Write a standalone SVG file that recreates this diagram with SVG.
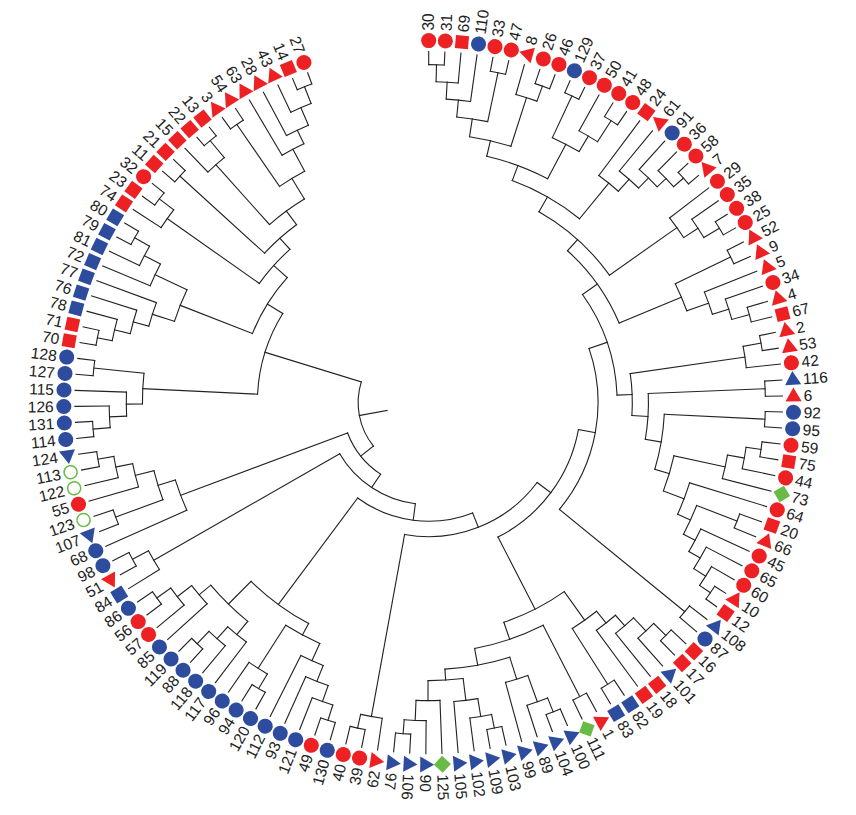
<svg xmlns="http://www.w3.org/2000/svg" width="856" height="815" viewBox="0 0 856 815">
<style>
#connectors circle{fill:none;stroke:#222;stroke-width:1.1;stroke-linecap:square}
#connectors path{fill:none;stroke:#222;stroke-width:1.1;stroke-linecap:square}
text{font-family:"Liberation Sans",Arial,sans-serif;font-size:15.5px;fill:#222}
.e{text-anchor:end}
.r{fill:#ED2024}.b{fill:#2E4C9E}.g{fill:#69BB45}
</style>
<defs>
<circle id="c" r="7.5"/>
<rect id="s" x="-6.5" y="-6.5" width="13" height="13"/>
<polygon id="t" points="-8.3,0 5.5,-8 5.5,8"/>
<polygon id="u" points="0,-8.3 -8,5.5 8,5.5"/>
<polygon id="d" points="0,-8.5 8.5,0 0,8.5 -8.5,0"/>
<circle id="o" r="6.5" fill="#fff" stroke="#69BB45" stroke-width="1.5"/>
</defs>
<rect width="856" height="815" fill="#fff"/>
<g transform="translate(428.7 402.6) scale(1.008 1)">
<g id="connectors">
<circle r="338" pathLength="360" stroke-dasharray="2.62 400" transform="rotate(-90)"/><path d="M0-338V-351"/><path d="M0-338V-351" transform="rotate(2.62)"/>
<circle r="321" pathLength="360" stroke-dasharray="3.92 400" transform="rotate(-88.69)"/><path d="M0-321V-338" transform="rotate(1.31)"/><path d="M0-321V-351" transform="rotate(5.23)"/>
<circle r="304" pathLength="360" stroke-dasharray="4.58 400" transform="rotate(-86.73)"/><path d="M0-304V-321" transform="rotate(3.27)"/><path d="M0-304V-351" transform="rotate(7.85)"/>
<circle r="337" pathLength="360" stroke-dasharray="2.62 400" transform="rotate(-79.54)"/><path d="M0-337V-351" transform="rotate(10.46)"/><path d="M0-337V-351" transform="rotate(13.08)"/>
<circle r="287" pathLength="360" stroke-dasharray="6.21 400" transform="rotate(-84.44)"/><path d="M0-287V-304" transform="rotate(5.56)"/><path d="M0-287V-337" transform="rotate(11.77)"/>
<circle r="336" pathLength="360" stroke-dasharray="2.61 400" transform="rotate(-71.69)"/><path d="M0-336V-351" transform="rotate(18.31)"/><path d="M0-336V-351" transform="rotate(20.92)"/>
<circle r="320" pathLength="360" stroke-dasharray="3.925 400" transform="rotate(-74.31)"/><path d="M0-320V-351" transform="rotate(15.69)"/><path d="M0-320V-336" transform="rotate(19.615)"/>
<circle r="269" pathLength="360" stroke-dasharray="8.985 400" transform="rotate(-81.335)"/><path d="M0-269V-287" transform="rotate(8.665)"/><path d="M0-269V-320" transform="rotate(17.65)"/>
<circle r="338" pathLength="360" stroke-dasharray="2.61 400" transform="rotate(-66.46)"/><path d="M0-338V-351" transform="rotate(23.54)"/><path d="M0-338V-351" transform="rotate(26.15)"/>
<circle r="335" pathLength="360" stroke-dasharray="2.62 400" transform="rotate(-58.62)"/><path d="M0-335V-351" transform="rotate(31.38)"/><path d="M0-335V-351" transform="rotate(34)"/>
<circle r="310" pathLength="360" stroke-dasharray="3.92 400" transform="rotate(-61.23)"/><path d="M0-310V-351" transform="rotate(28.77)"/><path d="M0-310V-335" transform="rotate(32.69)"/>
<circle r="292" pathLength="360" stroke-dasharray="5.88 400" transform="rotate(-65.15)"/><path d="M0-292V-338" transform="rotate(24.85)"/><path d="M0-292V-310" transform="rotate(30.73)"/>
<circle r="253" pathLength="360" stroke-dasharray="14.63 400" transform="rotate(-76.84)"/><path d="M0-253V-269" transform="rotate(13.16)"/><path d="M0-253V-292" transform="rotate(27.79)"/>
<circle r="338" pathLength="360" stroke-dasharray="2.61 400" transform="rotate(-42.92)"/><path d="M0-338V-351" transform="rotate(47.08)"/><path d="M0-338V-351" transform="rotate(49.69)"/>
<circle r="325" pathLength="360" stroke-dasharray="3.925 400" transform="rotate(-45.54)"/><path d="M0-325V-351" transform="rotate(44.46)"/><path d="M0-325V-338" transform="rotate(48.385)"/>
<circle r="313" pathLength="360" stroke-dasharray="4.57 400" transform="rotate(-48.15)"/><path d="M0-313V-351" transform="rotate(41.85)"/><path d="M0-313V-325" transform="rotate(46.42)"/>
<circle r="299" pathLength="360" stroke-dasharray="4.91 400" transform="rotate(-50.77)"/><path d="M0-299V-351" transform="rotate(39.23)"/><path d="M0-299V-313" transform="rotate(44.14)"/>
<circle r="283" pathLength="360" stroke-dasharray="5.06 400" transform="rotate(-53.38)"/><path d="M0-283V-351" transform="rotate(36.62)"/><path d="M0-283V-299" transform="rotate(41.68)"/>
<circle r="237" pathLength="360" stroke-dasharray="18.675 400" transform="rotate(-69.525)"/><path d="M0-237V-253" transform="rotate(20.475)"/><path d="M0-237V-283" transform="rotate(39.15)"/>
<circle r="337" pathLength="360" stroke-dasharray="2.61 400" transform="rotate(-32.46)"/><path d="M0-337V-351" transform="rotate(57.54)"/><path d="M0-337V-351" transform="rotate(60.15)"/>
<circle r="319" pathLength="360" stroke-dasharray="3.925 400" transform="rotate(-35.08)"/><path d="M0-319V-351" transform="rotate(54.92)"/><path d="M0-319V-337" transform="rotate(58.845)"/>
<circle r="302" pathLength="360" stroke-dasharray="4.57 400" transform="rotate(-37.69)"/><path d="M0-302V-351" transform="rotate(52.31)"/><path d="M0-302V-319" transform="rotate(56.88)"/>
<circle r="220" pathLength="360" stroke-dasharray="24.79 400" transform="rotate(-60.19)"/><path d="M0-220V-237" transform="rotate(29.81)"/><path d="M0-220V-302" transform="rotate(54.6)"/>
<circle r="333" pathLength="360" stroke-dasharray="2.61 400" transform="rotate(-27.23)"/><path d="M0-333V-351" transform="rotate(62.77)"/><path d="M0-333V-351" transform="rotate(65.38)"/>
<circle r="330" pathLength="360" stroke-dasharray="2.62 400" transform="rotate(-16.77)"/><path d="M0-330V-351" transform="rotate(73.23)"/><path d="M0-330V-351" transform="rotate(75.85)"/>
<circle r="312" pathLength="360" stroke-dasharray="3.92 400" transform="rotate(-19.38)"/><path d="M0-312V-351" transform="rotate(70.62)"/><path d="M0-312V-330" transform="rotate(74.54)"/>
<circle r="295" pathLength="360" stroke-dasharray="4.58 400" transform="rotate(-22)"/><path d="M0-295V-351" transform="rotate(68)"/><path d="M0-295V-312" transform="rotate(72.58)"/>
<circle r="272" pathLength="360" stroke-dasharray="6.215 400" transform="rotate(-25.925)"/><path d="M0-272V-333" transform="rotate(64.075)"/><path d="M0-272V-295" transform="rotate(70.29)"/>
<circle r="205" pathLength="360" stroke-dasharray="24.98 400" transform="rotate(-47.8)"/><path d="M0-205V-220" transform="rotate(42.2)"/><path d="M0-205V-272" transform="rotate(67.18)"/>
<circle r="335" pathLength="360" stroke-dasharray="2.62 400" transform="rotate(-11.54)"/><path d="M0-335V-351" transform="rotate(78.46)"/><path d="M0-335V-351" transform="rotate(81.08)"/>
<circle r="317" pathLength="360" stroke-dasharray="3.92 400" transform="rotate(-10.23)"/><path d="M0-317V-335" transform="rotate(79.77)"/><path d="M0-317V-351" transform="rotate(83.69)"/>
<circle r="334" pathLength="360" stroke-dasharray="2.61 400" transform="rotate(-3.69)"/><path d="M0-334V-351" transform="rotate(86.31)"/><path d="M0-334V-351" transform="rotate(88.92)"/>
<circle r="334" pathLength="360" stroke-dasharray="2.61 400" transform="rotate(1.54)"/><path d="M0-334V-351" transform="rotate(91.54)"/><path d="M0-334V-351" transform="rotate(94.15)"/>
<circle r="333" pathLength="360" stroke-dasharray="2.61 400" transform="rotate(6.77)"/><path d="M0-333V-351" transform="rotate(96.77)"/><path d="M0-333V-351" transform="rotate(99.38)"/>
<circle r="318" pathLength="360" stroke-dasharray="3.925 400" transform="rotate(8.075)"/><path d="M0-318V-333" transform="rotate(98.075)"/><path d="M0-318V-351" transform="rotate(102)"/>
<circle r="301" pathLength="360" stroke-dasharray="4.58 400" transform="rotate(10.04)"/><path d="M0-301V-318" transform="rotate(100.04)"/><path d="M0-301V-351" transform="rotate(104.62)"/>
<circle r="328" pathLength="360" stroke-dasharray="2.61 400" transform="rotate(19.85)"/><path d="M0-328V-351" transform="rotate(109.85)"/><path d="M0-328V-351" transform="rotate(112.46)"/>
<circle r="338" pathLength="360" stroke-dasharray="2.62 400" transform="rotate(32.92)"/><path d="M0-338V-351" transform="rotate(122.92)"/><path d="M0-338V-351" transform="rotate(125.54)"/>
<circle r="325" pathLength="360" stroke-dasharray="3.92 400" transform="rotate(30.31)"/><path d="M0-325V-351" transform="rotate(120.31)"/><path d="M0-325V-338" transform="rotate(124.23)"/>
<circle r="311" pathLength="360" stroke-dasharray="4.58 400" transform="rotate(27.69)"/><path d="M0-311V-351" transform="rotate(117.69)"/><path d="M0-311V-325" transform="rotate(122.27)"/>
<circle r="298" pathLength="360" stroke-dasharray="4.9 400" transform="rotate(25.08)"/><path d="M0-298V-351" transform="rotate(115.08)"/><path d="M0-298V-311" transform="rotate(119.98)"/>
<circle r="285" pathLength="360" stroke-dasharray="6.375 400" transform="rotate(21.155)"/><path d="M0-285V-328" transform="rotate(111.155)"/><path d="M0-285V-298" transform="rotate(117.53)"/>
<circle r="271" pathLength="360" stroke-dasharray="7.11 400" transform="rotate(17.23)"/><path d="M0-271V-351" transform="rotate(107.23)"/><path d="M0-271V-285" transform="rotate(114.34)"/>
<circle r="249" pathLength="360" stroke-dasharray="8.455 400" transform="rotate(12.33)"/><path d="M0-249V-301" transform="rotate(102.33)"/><path d="M0-249V-271" transform="rotate(110.785)"/>
<circle r="234" pathLength="360" stroke-dasharray="13.715 400" transform="rotate(2.845)"/><path d="M0-234V-334" transform="rotate(92.845)"/><path d="M0-234V-249" transform="rotate(106.56)"/>
<circle r="218" pathLength="360" stroke-dasharray="12.085 400" transform="rotate(-2.385)"/><path d="M0-218V-334" transform="rotate(87.615)"/><path d="M0-218V-234" transform="rotate(99.7)"/>
<circle r="202" pathLength="360" stroke-dasharray="11.93 400" transform="rotate(-8.27)"/><path d="M0-202V-317" transform="rotate(81.73)"/><path d="M0-202V-218" transform="rotate(93.66)"/>
<circle r="187" pathLength="360" stroke-dasharray="33.005 400" transform="rotate(-35.31)"/><path d="M0-187V-205" transform="rotate(54.69)"/><path d="M0-187V-202" transform="rotate(87.695)"/>
<circle r="329" pathLength="360" stroke-dasharray="2.62 400" transform="rotate(38.15)"/><path d="M0-329V-351" transform="rotate(128.15)"/><path d="M0-329V-351" transform="rotate(130.77)"/>
<circle r="168" pathLength="360" stroke-dasharray="58.27 400" transform="rotate(-18.81)"/><path d="M0-168V-187" transform="rotate(71.19)"/><path d="M0-168V-329" transform="rotate(129.46)"/>
<circle r="331" pathLength="360" stroke-dasharray="2.62 400" transform="rotate(43.38)"/><path d="M0-331V-351" transform="rotate(133.38)"/><path d="M0-331V-351" transform="rotate(136)"/>
<circle r="314" pathLength="360" stroke-dasharray="3.93 400" transform="rotate(44.69)"/><path d="M0-314V-351" transform="rotate(138.62)"/><path d="M0-314V-331" transform="rotate(134.69)"/>
<circle r="296" pathLength="360" stroke-dasharray="4.575 400" transform="rotate(46.655)"/><path d="M0-296V-351" transform="rotate(141.23)"/><path d="M0-296V-314" transform="rotate(136.655)"/>
<circle r="282" pathLength="360" stroke-dasharray="4.91 400" transform="rotate(48.94)"/><path d="M0-282V-351" transform="rotate(143.85)"/><path d="M0-282V-296" transform="rotate(138.94)"/>
<circle r="333" pathLength="360" stroke-dasharray="2.62 400" transform="rotate(56.46)"/><path d="M0-333V-351" transform="rotate(146.46)"/><path d="M0-333V-351" transform="rotate(149.08)"/>
<circle r="267" pathLength="360" stroke-dasharray="6.375 400" transform="rotate(51.395)"/><path d="M0-267V-282" transform="rotate(141.395)"/><path d="M0-267V-333" transform="rotate(147.77)"/>
<circle r="330" pathLength="360" stroke-dasharray="2.62 400" transform="rotate(61.69)"/><path d="M0-330V-351" transform="rotate(151.69)"/><path d="M0-330V-351" transform="rotate(154.31)"/>
<circle r="333" pathLength="360" stroke-dasharray="2.62 400" transform="rotate(66.92)"/><path d="M0-333V-351" transform="rotate(156.92)"/><path d="M0-333V-351" transform="rotate(159.54)"/>
<circle r="318" pathLength="360" stroke-dasharray="3.92 400" transform="rotate(68.23)"/><path d="M0-318V-351" transform="rotate(162.15)"/><path d="M0-318V-333" transform="rotate(158.23)"/>
<circle r="290" pathLength="360" stroke-dasharray="4.58 400" transform="rotate(70.19)"/><path d="M0-290V-351" transform="rotate(164.77)"/><path d="M0-290V-318" transform="rotate(160.19)"/>
<circle r="332" pathLength="360" stroke-dasharray="2.62 400" transform="rotate(77.38)"/><path d="M0-332V-351" transform="rotate(167.38)"/><path d="M0-332V-351" transform="rotate(170)"/>
<circle r="318" pathLength="360" stroke-dasharray="3.93 400" transform="rotate(78.69)"/><path d="M0-318V-332" transform="rotate(168.69)"/><path d="M0-318V-351" transform="rotate(172.62)"/>
<circle r="300" pathLength="360" stroke-dasharray="4.575 400" transform="rotate(80.655)"/><path d="M0-300V-318" transform="rotate(170.655)"/><path d="M0-300V-351" transform="rotate(175.23)"/>
<circle r="332" pathLength="360" stroke-dasharray="2.61 400" transform="rotate(93.08)"/><path d="M0-332V-351" transform="rotate(183.08)"/><path d="M0-332V-351" transform="rotate(185.69)"/>
<circle r="318" pathLength="360" stroke-dasharray="3.925 400" transform="rotate(90.46)"/><path d="M0-318V-351" transform="rotate(180.46)"/><path d="M0-318V-332" transform="rotate(184.385)"/>
<circle r="298" pathLength="360" stroke-dasharray="4.57 400" transform="rotate(87.85)"/><path d="M0-298V-351" transform="rotate(177.85)"/><path d="M0-298V-318" transform="rotate(182.42)"/>
<circle r="278" pathLength="360" stroke-dasharray="7.195 400" transform="rotate(82.94)"/><path d="M0-278V-300" transform="rotate(172.94)"/><path d="M0-278V-298" transform="rotate(180.135)"/>
<circle r="267" pathLength="360" stroke-dasharray="14.06 400" transform="rotate(72.48)"/><path d="M0-267V-290" transform="rotate(162.48)"/><path d="M0-267V-278" transform="rotate(176.54)"/>
<circle r="250" pathLength="360" stroke-dasharray="16.51 400" transform="rotate(63)"/><path d="M0-250V-330" transform="rotate(153)"/><path d="M0-250V-267" transform="rotate(169.51)"/>
<circle r="232" pathLength="360" stroke-dasharray="16.675 400" transform="rotate(54.58)"/><path d="M0-232V-267" transform="rotate(144.58)"/><path d="M0-232V-250" transform="rotate(161.255)"/>
<circle r="151" pathLength="360" stroke-dasharray="52.595 400" transform="rotate(10.325)"/><path d="M0-151V-168" transform="rotate(100.325)"/><path d="M0-151V-232" transform="rotate(152.92)"/>
<circle r="333" pathLength="360" stroke-dasharray="2.62 400" transform="rotate(100.92)"/><path d="M0-333V-351" transform="rotate(190.92)"/><path d="M0-333V-351" transform="rotate(193.54)"/>
<circle r="319" pathLength="360" stroke-dasharray="3.92 400" transform="rotate(98.31)"/><path d="M0-319V-351" transform="rotate(188.31)"/><path d="M0-319V-333" transform="rotate(192.23)"/>
<circle r="134" pathLength="360" stroke-dasharray="63.65 400" transform="rotate(36.62)"/><path d="M0-134V-151" transform="rotate(126.62)"/><path d="M0-134V-319" transform="rotate(190.27)"/>
<circle r="333" pathLength="360" stroke-dasharray="2.62 400" transform="rotate(106.15)"/><path d="M0-333V-351" transform="rotate(196.15)"/><path d="M0-333V-351" transform="rotate(198.77)"/>
<circle r="317" pathLength="360" stroke-dasharray="3.92 400" transform="rotate(107.46)"/><path d="M0-317V-333" transform="rotate(197.46)"/><path d="M0-317V-351" transform="rotate(201.38)"/>
<circle r="300" pathLength="360" stroke-dasharray="4.58 400" transform="rotate(109.42)"/><path d="M0-300V-317" transform="rotate(199.42)"/><path d="M0-300V-351" transform="rotate(204)"/>
<circle r="283" pathLength="360" stroke-dasharray="4.91 400" transform="rotate(111.71)"/><path d="M0-283V-300" transform="rotate(201.71)"/><path d="M0-283V-351" transform="rotate(206.62)"/>
<circle r="332" pathLength="360" stroke-dasharray="2.62 400" transform="rotate(119.23)"/><path d="M0-332V-351" transform="rotate(209.23)"/><path d="M0-332V-351" transform="rotate(211.85)"/>
<circle r="315" pathLength="360" stroke-dasharray="3.92 400" transform="rotate(120.54)"/><path d="M0-315V-332" transform="rotate(210.54)"/><path d="M0-315V-351" transform="rotate(214.46)"/>
<circle r="264" pathLength="360" stroke-dasharray="8.335 400" transform="rotate(114.165)"/><path d="M0-264V-283" transform="rotate(204.165)"/><path d="M0-264V-315" transform="rotate(212.5)"/>
<circle r="333" pathLength="360" stroke-dasharray="2.61 400" transform="rotate(132.31)"/><path d="M0-333V-351" transform="rotate(222.31)"/><path d="M0-333V-351" transform="rotate(224.92)"/>
<circle r="316" pathLength="360" stroke-dasharray="3.925 400" transform="rotate(129.69)"/><path d="M0-316V-351" transform="rotate(219.69)"/><path d="M0-316V-333" transform="rotate(223.615)"/>
<circle r="300" pathLength="360" stroke-dasharray="4.57 400" transform="rotate(127.08)"/><path d="M0-300V-351" transform="rotate(217.08)"/><path d="M0-300V-316" transform="rotate(221.65)"/>
<circle r="333" pathLength="360" stroke-dasharray="2.61 400" transform="rotate(142.77)"/><path d="M0-333V-351" transform="rotate(232.77)"/><path d="M0-333V-351" transform="rotate(235.38)"/>
<circle r="316" pathLength="360" stroke-dasharray="3.925 400" transform="rotate(140.15)"/><path d="M0-316V-351" transform="rotate(230.15)"/><path d="M0-316V-333" transform="rotate(234.075)"/>
<circle r="298" pathLength="360" stroke-dasharray="4.57 400" transform="rotate(137.54)"/><path d="M0-298V-351" transform="rotate(227.54)"/><path d="M0-298V-316" transform="rotate(232.11)"/>
<circle r="283" pathLength="360" stroke-dasharray="10.46 400" transform="rotate(129.37)"/><path d="M0-283V-300" transform="rotate(219.37)"/><path d="M0-283V-298" transform="rotate(229.83)"/>
<circle r="251" pathLength="360" stroke-dasharray="16.27 400" transform="rotate(118.33)"/><path d="M0-251V-264" transform="rotate(208.33)"/><path d="M0-251V-283" transform="rotate(224.6)"/>
<circle r="118.6" pathLength="360" stroke-dasharray="58.015 400" transform="rotate(68.445)"/><path d="M0-118.6V-134" transform="rotate(158.445)"/><path d="M0-118.6V-251" transform="rotate(216.46)"/>
<circle r="333" pathLength="360" stroke-dasharray="2.61 400" transform="rotate(150.62)"/><path d="M0-333V-351" transform="rotate(240.62)"/><path d="M0-333V-351" transform="rotate(243.23)"/>
<circle r="315" pathLength="360" stroke-dasharray="3.925 400" transform="rotate(148)"/><path d="M0-315V-351" transform="rotate(238)"/><path d="M0-315V-333" transform="rotate(241.925)"/>
<circle r="102" pathLength="360" stroke-dasharray="52.51 400" transform="rotate(97.45)"/><path d="M0-102V-118.6" transform="rotate(187.45)"/><path d="M0-102V-315" transform="rotate(239.96)"/>
<circle r="333" pathLength="360" stroke-dasharray="2.62 400" transform="rotate(168.92)"/><path d="M0-333V-351" transform="rotate(258.92)"/><path d="M0-333V-351" transform="rotate(261.54)"/>
<circle r="317" pathLength="360" stroke-dasharray="3.92 400" transform="rotate(166.31)"/><path d="M0-317V-351" transform="rotate(256.31)"/><path d="M0-317V-333" transform="rotate(260.23)"/>
<circle r="300" pathLength="360" stroke-dasharray="4.58 400" transform="rotate(163.69)"/><path d="M0-300V-351" transform="rotate(253.69)"/><path d="M0-300V-317" transform="rotate(258.27)"/>
<circle r="331" pathLength="360" stroke-dasharray="2.62 400" transform="rotate(158.46)"/><path d="M0-331V-351" transform="rotate(248.46)"/><path d="M0-331V-351" transform="rotate(251.08)"/>
<circle r="281" pathLength="360" stroke-dasharray="6.21 400" transform="rotate(159.77)"/><path d="M0-281V-331" transform="rotate(249.77)"/><path d="M0-281V-300" transform="rotate(255.98)"/>
<circle r="263" pathLength="360" stroke-dasharray="7.025 400" transform="rotate(155.85)"/><path d="M0-263V-351" transform="rotate(245.85)"/><path d="M0-263V-281" transform="rotate(252.875)"/>
<circle r="86" pathLength="360" stroke-dasharray="35.66 400" transform="rotate(123.7)"/><path d="M0-86V-102" transform="rotate(213.7)"/><path d="M0-86V-263" transform="rotate(249.36)"/>
<circle r="334" pathLength="360" stroke-dasharray="2.62 400" transform="rotate(174.15)"/><path d="M0-334V-351" transform="rotate(264.15)"/><path d="M0-334V-351" transform="rotate(266.77)"/>
<circle r="317" pathLength="360" stroke-dasharray="3.92 400" transform="rotate(175.46)"/><path d="M0-317V-351" transform="rotate(269.38)"/><path d="M0-317V-334" transform="rotate(265.46)"/>
<circle r="300" pathLength="360" stroke-dasharray="4.58 400" transform="rotate(177.42)"/><path d="M0-300V-351" transform="rotate(272)"/><path d="M0-300V-317" transform="rotate(267.42)"/>
<circle r="334" pathLength="360" stroke-dasharray="2.61 400" transform="rotate(184.62)"/><path d="M0-334V-351" transform="rotate(274.62)"/><path d="M0-334V-351" transform="rotate(277.23)"/>
<circle r="284" pathLength="360" stroke-dasharray="6.215 400" transform="rotate(179.71)"/><path d="M0-284V-300" transform="rotate(269.71)"/><path d="M0-284V-334" transform="rotate(275.925)"/>
<circle r="335" pathLength="360" stroke-dasharray="2.61 400" transform="rotate(189.85)"/><path d="M0-335V-351" transform="rotate(279.85)"/><path d="M0-335V-351" transform="rotate(282.46)"/>
<circle r="320" pathLength="360" stroke-dasharray="3.925 400" transform="rotate(191.155)"/><path d="M0-320V-335" transform="rotate(281.155)"/><path d="M0-320V-351" transform="rotate(285.08)"/>
<circle r="304" pathLength="360" stroke-dasharray="4.57 400" transform="rotate(193.12)"/><path d="M0-304V-320" transform="rotate(283.12)"/><path d="M0-304V-351" transform="rotate(287.69)"/>
<circle r="288" pathLength="360" stroke-dasharray="4.91 400" transform="rotate(195.4)"/><path d="M0-288V-304" transform="rotate(285.4)"/><path d="M0-288V-351" transform="rotate(290.31)"/>
<circle r="335" pathLength="360" stroke-dasharray="2.62 400" transform="rotate(208.15)"/><path d="M0-335V-351" transform="rotate(298.15)"/><path d="M0-335V-351" transform="rotate(300.77)"/>
<circle r="318" pathLength="360" stroke-dasharray="3.92 400" transform="rotate(205.54)"/><path d="M0-318V-351" transform="rotate(295.54)"/><path d="M0-318V-335" transform="rotate(299.46)"/>
<circle r="300" pathLength="360" stroke-dasharray="4.58 400" transform="rotate(202.92)"/><path d="M0-300V-351" transform="rotate(292.92)"/><path d="M0-300V-318" transform="rotate(297.5)"/>
<circle r="265" pathLength="360" stroke-dasharray="7.35 400" transform="rotate(197.86)"/><path d="M0-265V-288" transform="rotate(287.86)"/><path d="M0-265V-300" transform="rotate(295.21)"/>
<circle r="336" pathLength="360" stroke-dasharray="2.62 400" transform="rotate(216)"/><path d="M0-336V-351" transform="rotate(306)"/><path d="M0-336V-351" transform="rotate(308.62)"/>
<circle r="318" pathLength="360" stroke-dasharray="3.93 400" transform="rotate(213.38)"/><path d="M0-318V-351" transform="rotate(303.38)"/><path d="M0-318V-336" transform="rotate(307.31)"/>
<circle r="335" pathLength="360" stroke-dasharray="2.62 400" transform="rotate(221.23)"/><path d="M0-335V-351" transform="rotate(311.23)"/><path d="M0-335V-351" transform="rotate(313.85)"/>
<circle r="340" pathLength="360" stroke-dasharray="2.61 400" transform="rotate(229.08)"/><path d="M0-340V-351" transform="rotate(319.08)"/><path d="M0-340V-351" transform="rotate(321.69)"/>
<circle r="318" pathLength="360" stroke-dasharray="3.925 400" transform="rotate(226.46)"/><path d="M0-318V-351" transform="rotate(316.46)"/><path d="M0-318V-340" transform="rotate(320.385)"/>
<circle r="337" pathLength="360" stroke-dasharray="2.61 400" transform="rotate(234.31)"/><path d="M0-337V-351" transform="rotate(324.31)"/><path d="M0-337V-351" transform="rotate(326.92)"/>
<circle r="339" pathLength="360" stroke-dasharray="2.62 400" transform="rotate(247.38)"/><path d="M0-339V-351" transform="rotate(337.38)"/><path d="M0-339V-351" transform="rotate(340)"/>
<circle r="321" pathLength="360" stroke-dasharray="3.92 400" transform="rotate(244.77)"/><path d="M0-321V-351" transform="rotate(334.77)"/><path d="M0-321V-339" transform="rotate(338.69)"/>
<circle r="302" pathLength="360" stroke-dasharray="4.58 400" transform="rotate(242.15)"/><path d="M0-302V-351" transform="rotate(332.15)"/><path d="M0-302V-321" transform="rotate(336.73)"/>
<circle r="287" pathLength="360" stroke-dasharray="4.9 400" transform="rotate(239.54)"/><path d="M0-287V-351" transform="rotate(329.54)"/><path d="M0-287V-302" transform="rotate(334.44)"/>
<circle r="262" pathLength="360" stroke-dasharray="6.375 400" transform="rotate(235.615)"/><path d="M0-262V-337" transform="rotate(325.615)"/><path d="M0-262V-287" transform="rotate(331.99)"/>
<circle r="238" pathLength="360" stroke-dasharray="10.38 400" transform="rotate(228.42)"/><path d="M0-238V-318" transform="rotate(318.42)"/><path d="M0-238V-262" transform="rotate(328.8)"/>
<circle r="221" pathLength="360" stroke-dasharray="11.07 400" transform="rotate(222.54)"/><path d="M0-221V-335" transform="rotate(312.54)"/><path d="M0-221V-238" transform="rotate(323.61)"/>
<circle r="206" pathLength="360" stroke-dasharray="12.73 400" transform="rotate(215.345)"/><path d="M0-206V-318" transform="rotate(305.345)"/><path d="M0-206V-221" transform="rotate(318.075)"/>
<circle r="188" pathLength="360" stroke-dasharray="20.175 400" transform="rotate(201.535)"/><path d="M0-188V-265" transform="rotate(291.535)"/><path d="M0-188V-206" transform="rotate(311.71)"/>
<circle r="170" pathLength="360" stroke-dasharray="28.8 400" transform="rotate(182.82)"/><path d="M0-170V-284" transform="rotate(272.82)"/><path d="M0-170V-188" transform="rotate(301.62)"/>
<circle r="70" pathLength="360" stroke-dasharray="55.69 400" transform="rotate(141.53)"/><path d="M0-70V-86" transform="rotate(231.53)"/><path d="M0-70V-170" transform="rotate(287.22)"/>
<path d="M0-42V-70" transform="rotate(259.375)"/>
</g>
<g id="leaves">
<g id="n30" transform="rotate(0)"><use href="#c" class="r" y="-362"/><text transform="rotate(-90)" x="372" y="5.5">30</text></g>
<g id="n31" transform="rotate(2.62)"><use href="#c" class="r" y="-362"/><text transform="rotate(-90)" x="372" y="5.5">31</text></g>
<g id="n69" transform="rotate(5.23)"><use href="#s" class="r" y="-362"/><text transform="rotate(-90)" x="372" y="5.5">69</text></g>
<g id="n110" transform="rotate(7.85)"><use href="#c" class="b" y="-362"/><text transform="rotate(-90)" x="372" y="5.5">110</text></g>
<g id="n33" transform="rotate(10.46)"><use href="#c" class="r" y="-362"/><text transform="rotate(-90)" x="372" y="5.5">33</text></g>
<g id="n47" transform="rotate(13.08)"><use href="#c" class="r" y="-362"/><text transform="rotate(-90)" x="372" y="5.5">47</text></g>
<g id="n8" transform="rotate(15.69)"><use href="#t" class="r" y="-362"/><text transform="rotate(-90)" x="372" y="5.5">8</text></g>
<g id="n26" transform="rotate(18.31)"><use href="#c" class="r" y="-362"/><text transform="rotate(-90)" x="372" y="5.5">26</text></g>
<g id="n46" transform="rotate(20.92)"><use href="#c" class="r" y="-362"/><text transform="rotate(-90)" x="372" y="5.5">46</text></g>
<g id="n129" transform="rotate(23.54)"><use href="#c" class="b" y="-362"/><text transform="rotate(-90)" x="372" y="5.5">129</text></g>
<g id="n37" transform="rotate(26.15)"><use href="#c" class="r" y="-362"/><text transform="rotate(-90)" x="372" y="5.5">37</text></g>
<g id="n50" transform="rotate(28.77)"><use href="#c" class="r" y="-362"/><text transform="rotate(-90)" x="372" y="5.5">50</text></g>
<g id="n41" transform="rotate(31.38)"><use href="#c" class="r" y="-362"/><text transform="rotate(-90)" x="372" y="5.5">41</text></g>
<g id="n48" transform="rotate(34)"><use href="#c" class="r" y="-362"/><text transform="rotate(-90)" x="372" y="5.5">48</text></g>
<g id="n24" transform="rotate(36.62)"><use href="#s" class="r" y="-362"/><text transform="rotate(-90)" x="372" y="5.5">24</text></g>
<g id="n61" transform="rotate(39.23)"><use href="#t" class="r" y="-362"/><text transform="rotate(-90)" x="372" y="5.5">61</text></g>
<g id="n91" transform="rotate(41.85)"><use href="#c" class="b" y="-362"/><text transform="rotate(-90)" x="372" y="5.5">91</text></g>
<g id="n36" transform="rotate(44.46)"><use href="#c" class="r" y="-362"/><text transform="rotate(-90)" x="372" y="5.5">36</text></g>
<g id="n58" transform="rotate(47.08)"><use href="#c" class="r" y="-362"/><text transform="rotate(-90)" x="372" y="5.5">58</text></g>
<g id="n7" transform="rotate(49.69)"><use href="#t" class="r" y="-362"/><text transform="rotate(-90)" x="372" y="5.5">7</text></g>
<g id="n29" transform="rotate(52.31)"><use href="#c" class="r" y="-362"/><text transform="rotate(-90)" x="372" y="5.5">29</text></g>
<g id="n35" transform="rotate(54.92)"><use href="#c" class="r" y="-362"/><text transform="rotate(-90)" x="372" y="5.5">35</text></g>
<g id="n38" transform="rotate(57.54)"><use href="#c" class="r" y="-362"/><text transform="rotate(-90)" x="372" y="5.5">38</text></g>
<g id="n25" transform="rotate(60.15)"><use href="#c" class="r" y="-362"/><text transform="rotate(-90)" x="372" y="5.5">25</text></g>
<g id="n52" transform="rotate(62.77)"><use href="#t" class="r" y="-362"/><text transform="rotate(-90)" x="372" y="5.5">52</text></g>
<g id="n9" transform="rotate(65.38)"><use href="#t" class="r" y="-362"/><text transform="rotate(-90)" x="372" y="5.5">9</text></g>
<g id="n5" transform="rotate(68)"><use href="#t" class="r" y="-362"/><text transform="rotate(-90)" x="372" y="5.5">5</text></g>
<g id="n34" transform="rotate(70.62)"><use href="#c" class="r" y="-362"/><text transform="rotate(-90)" x="372" y="5.5">34</text></g>
<g id="n4" transform="rotate(73.23)"><use href="#t" class="r" y="-362"/><text transform="rotate(-90)" x="372" y="5.5">4</text></g>
<g id="n67" transform="rotate(75.85)"><use href="#s" class="r" y="-362"/><text transform="rotate(-90)" x="372" y="5.5">67</text></g>
<g id="n2" transform="rotate(78.46)"><use href="#t" class="r" y="-362"/><text transform="rotate(-90)" x="372" y="5.5">2</text></g>
<g id="n53" transform="rotate(81.08)"><use href="#t" class="r" y="-362"/><text transform="rotate(-90)" x="372" y="5.5">53</text></g>
<g id="n42" transform="rotate(83.69)"><use href="#c" class="r" y="-362"/><text transform="rotate(-90)" x="372" y="5.5">42</text></g>
<g id="n116" transform="rotate(86.31)"><use href="#t" class="b" y="-362"/><text transform="rotate(-90)" x="372" y="5.5">116</text></g>
<g id="n6" transform="rotate(88.92)"><use href="#t" class="r" y="-362"/><text transform="rotate(-90)" x="372" y="5.5">6</text></g>
<g id="n92" transform="rotate(91.54)"><use href="#c" class="b" y="-362"/><text transform="rotate(-90)" x="372" y="5.5">92</text></g>
<g id="n95" transform="rotate(94.15)"><use href="#c" class="b" y="-362"/><text transform="rotate(-90)" x="372" y="5.5">95</text></g>
<g id="n59" transform="rotate(96.77)"><use href="#c" class="r" y="-362"/><text transform="rotate(-90)" x="372" y="5.5">59</text></g>
<g id="n75" transform="rotate(99.38)"><use href="#s" class="r" y="-362"/><text transform="rotate(-90)" x="372" y="5.5">75</text></g>
<g id="n44" transform="rotate(102)"><use href="#c" class="r" y="-362"/><text transform="rotate(-90)" x="372" y="5.5">44</text></g>
<g id="n73" transform="rotate(104.62)"><use href="#d" class="g" y="-362"/><text transform="rotate(-90)" x="372" y="5.5">73</text></g>
<g id="n64" transform="rotate(107.23)"><use href="#c" class="r" y="-362"/><text transform="rotate(-90)" x="372" y="5.5">64</text></g>
<g id="n20" transform="rotate(109.85)"><use href="#s" class="r" y="-362"/><text transform="rotate(-90)" x="372" y="5.5">20</text></g>
<g id="n66" transform="rotate(112.46)"><use href="#t" class="r" y="-362"/><text transform="rotate(-90)" x="372" y="5.5">66</text></g>
<g id="n45" transform="rotate(115.08)"><use href="#c" class="r" y="-362"/><text transform="rotate(-90)" x="372" y="5.5">45</text></g>
<g id="n65" transform="rotate(117.69)"><use href="#c" class="r" y="-362"/><text transform="rotate(-90)" x="372" y="5.5">65</text></g>
<g id="n60" transform="rotate(120.31)"><use href="#c" class="r" y="-362"/><text transform="rotate(-90)" x="372" y="5.5">60</text></g>
<g id="n10" transform="rotate(122.92)"><use href="#t" class="r" y="-362"/><text transform="rotate(-90)" x="372" y="5.5">10</text></g>
<g id="n12" transform="rotate(125.54)"><use href="#s" class="r" y="-362"/><text transform="rotate(-90)" x="372" y="5.5">12</text></g>
<g id="n108" transform="rotate(128.15)"><use href="#t" class="b" y="-362"/><text transform="rotate(-90)" x="372" y="5.5">108</text></g>
<g id="n87" transform="rotate(130.77)"><use href="#c" class="b" y="-362"/><text transform="rotate(-90)" x="372" y="5.5">87</text></g>
<g id="n16" transform="rotate(133.38)"><use href="#s" class="r" y="-362"/><text transform="rotate(-90)" x="372" y="5.5">16</text></g>
<g id="n17" transform="rotate(136)"><use href="#s" class="r" y="-362"/><text transform="rotate(-90)" x="372" y="5.5">17</text></g>
<g id="n101" transform="rotate(138.62)"><use href="#t" class="b" y="-362"/><text transform="rotate(-90)" x="372" y="5.5">101</text></g>
<g id="n18" transform="rotate(141.23)"><use href="#s" class="r" y="-362"/><text transform="rotate(-90)" x="372" y="5.5">18</text></g>
<g id="n19" transform="rotate(143.85)"><use href="#s" class="r" y="-362"/><text transform="rotate(-90)" x="372" y="5.5">19</text></g>
<g id="n82" transform="rotate(146.46)"><use href="#s" class="b" y="-362"/><text transform="rotate(-90)" x="372" y="5.5">82</text></g>
<g id="n83" transform="rotate(149.08)"><use href="#s" class="b" y="-362"/><text transform="rotate(-90)" x="372" y="5.5">83</text></g>
<g id="n1" transform="rotate(151.69)"><use href="#t" class="r" y="-362"/><text transform="rotate(-90)" x="372" y="5.5">1</text></g>
<g id="n111" transform="rotate(154.31)"><use href="#d" class="g" y="-362"/><text transform="rotate(-90)" x="372" y="5.5">111</text></g>
<g id="n100" transform="rotate(156.92)"><use href="#t" class="b" y="-362"/><text transform="rotate(-90)" x="372" y="5.5">100</text></g>
<g id="n104" transform="rotate(159.54)"><use href="#t" class="b" y="-362"/><text transform="rotate(-90)" x="372" y="5.5">104</text></g>
<g id="n89" transform="rotate(162.15)"><use href="#t" class="b" y="-362"/><text transform="rotate(-90)" x="372" y="5.5">89</text></g>
<g id="n99" transform="rotate(164.77)"><use href="#t" class="b" y="-362"/><text transform="rotate(-90)" x="372" y="5.5">99</text></g>
<g id="n103" transform="rotate(167.38)"><use href="#t" class="b" y="-362"/><text transform="rotate(-90)" x="372" y="5.5">103</text></g>
<g id="n109" transform="rotate(170)"><use href="#t" class="b" y="-362"/><text transform="rotate(-90)" x="372" y="5.5">109</text></g>
<g id="n102" transform="rotate(172.62)"><use href="#t" class="b" y="-362"/><text transform="rotate(-90)" x="372" y="5.5">102</text></g>
<g id="n105" transform="rotate(175.23)"><use href="#t" class="b" y="-362"/><text transform="rotate(-90)" x="372" y="5.5">105</text></g>
<g id="n125" transform="rotate(177.85)"><use href="#d" class="g" y="-362"/><text transform="rotate(-90)" x="372" y="5.5">125</text></g>
<g id="n90" transform="rotate(180.46)"><use href="#t" class="b" y="-362"/><text transform="rotate(-90)" x="372" y="5.5">90</text></g>
<g id="n106" transform="rotate(183.08)"><use href="#t" class="b" y="-362"/><text transform="rotate(-90)" x="372" y="5.5">106</text></g>
<g id="n97" transform="rotate(185.69)"><use href="#t" class="b" y="-362"/><text transform="rotate(-90)" x="372" y="5.5">97</text></g>
<g id="n62" transform="rotate(188.31)"><use href="#t" class="r" y="-362"/><text class="e" transform="rotate(90)" x="-372" y="5.5">62</text></g>
<g id="n39" transform="rotate(190.92)"><use href="#c" class="r" y="-362"/><text class="e" transform="rotate(90)" x="-372" y="5.5">39</text></g>
<g id="n40" transform="rotate(193.54)"><use href="#c" class="r" y="-362"/><text class="e" transform="rotate(90)" x="-372" y="5.5">40</text></g>
<g id="n130" transform="rotate(196.15)"><use href="#c" class="b" y="-362"/><text class="e" transform="rotate(90)" x="-372" y="5.5">130</text></g>
<g id="n49" transform="rotate(198.77)"><use href="#c" class="r" y="-362"/><text class="e" transform="rotate(90)" x="-372" y="5.5">49</text></g>
<g id="n121" transform="rotate(201.38)"><use href="#c" class="b" y="-362"/><text class="e" transform="rotate(90)" x="-372" y="5.5">121</text></g>
<g id="n93" transform="rotate(204)"><use href="#c" class="b" y="-362"/><text class="e" transform="rotate(90)" x="-372" y="5.5">93</text></g>
<g id="n112" transform="rotate(206.62)"><use href="#c" class="b" y="-362"/><text class="e" transform="rotate(90)" x="-372" y="5.5">112</text></g>
<g id="n120" transform="rotate(209.23)"><use href="#c" class="b" y="-362"/><text class="e" transform="rotate(90)" x="-372" y="5.5">120</text></g>
<g id="n94" transform="rotate(211.85)"><use href="#c" class="b" y="-362"/><text class="e" transform="rotate(90)" x="-372" y="5.5">94</text></g>
<g id="n96" transform="rotate(214.46)"><use href="#c" class="b" y="-362"/><text class="e" transform="rotate(90)" x="-372" y="5.5">96</text></g>
<g id="n117" transform="rotate(217.08)"><use href="#c" class="b" y="-362"/><text class="e" transform="rotate(90)" x="-372" y="5.5">117</text></g>
<g id="n118" transform="rotate(219.69)"><use href="#c" class="b" y="-362"/><text class="e" transform="rotate(90)" x="-372" y="5.5">118</text></g>
<g id="n88" transform="rotate(222.31)"><use href="#c" class="b" y="-362"/><text class="e" transform="rotate(90)" x="-372" y="5.5">88</text></g>
<g id="n119" transform="rotate(224.92)"><use href="#c" class="b" y="-362"/><text class="e" transform="rotate(90)" x="-372" y="5.5">119</text></g>
<g id="n85" transform="rotate(227.54)"><use href="#c" class="b" y="-362"/><text class="e" transform="rotate(90)" x="-372" y="5.5">85</text></g>
<g id="n57" transform="rotate(230.15)"><use href="#c" class="r" y="-362"/><text class="e" transform="rotate(90)" x="-372" y="5.5">57</text></g>
<g id="n56" transform="rotate(232.77)"><use href="#c" class="r" y="-362"/><text class="e" transform="rotate(90)" x="-372" y="5.5">56</text></g>
<g id="n86" transform="rotate(235.38)"><use href="#c" class="b" y="-362"/><text class="e" transform="rotate(90)" x="-372" y="5.5">86</text></g>
<g id="n84" transform="rotate(238)"><use href="#s" class="b" y="-362"/><text class="e" transform="rotate(90)" x="-372" y="5.5">84</text></g>
<g id="n51" transform="rotate(240.62)"><use href="#t" class="r" y="-362"/><text class="e" transform="rotate(90)" x="-372" y="5.5">51</text></g>
<g id="n98" transform="rotate(243.23)"><use href="#c" class="b" y="-362"/><text class="e" transform="rotate(90)" x="-372" y="5.5">98</text></g>
<g id="n68" transform="rotate(245.85)"><use href="#c" class="b" y="-362"/><text class="e" transform="rotate(90)" x="-372" y="5.5">68</text></g>
<g id="n107" transform="rotate(248.46)"><use href="#t" class="b" y="-362"/><text class="e" transform="rotate(90)" x="-372" y="5.5">107</text></g>
<g id="n123" transform="rotate(251.08)"><use href="#o" y="-362"/><text class="e" transform="rotate(90)" x="-372" y="5.5">123</text></g>
<g id="n55" transform="rotate(253.69)"><use href="#c" class="r" y="-362"/><text class="e" transform="rotate(90)" x="-372" y="5.5">55</text></g>
<g id="n122" transform="rotate(256.31)"><use href="#o" y="-362"/><text class="e" transform="rotate(90)" x="-372" y="5.5">122</text></g>
<g id="n113" transform="rotate(258.92)"><use href="#o" y="-362"/><text class="e" transform="rotate(90)" x="-372" y="5.5">113</text></g>
<g id="n124" transform="rotate(261.54)"><use href="#t" class="b" y="-362"/><text class="e" transform="rotate(90)" x="-372" y="5.5">124</text></g>
<g id="n114" transform="rotate(264.15)"><use href="#c" class="b" y="-362"/><text class="e" transform="rotate(90)" x="-372" y="5.5">114</text></g>
<g id="n131" transform="rotate(266.77)"><use href="#c" class="b" y="-362"/><text class="e" transform="rotate(90)" x="-372" y="5.5">131</text></g>
<g id="n126" transform="rotate(269.38)"><use href="#c" class="b" y="-362"/><text class="e" transform="rotate(90)" x="-372" y="5.5">126</text></g>
<g id="n115" transform="rotate(272)"><use href="#c" class="b" y="-362"/><text class="e" transform="rotate(90)" x="-372" y="5.5">115</text></g>
<g id="n127" transform="rotate(274.62)"><use href="#c" class="b" y="-362"/><text class="e" transform="rotate(90)" x="-372" y="5.5">127</text></g>
<g id="n128" transform="rotate(277.23)"><use href="#c" class="b" y="-362"/><text class="e" transform="rotate(90)" x="-372" y="5.5">128</text></g>
<g id="n70" transform="rotate(279.85)"><use href="#s" class="r" y="-362"/><text class="e" transform="rotate(90)" x="-372" y="5.5">70</text></g>
<g id="n71" transform="rotate(282.46)"><use href="#s" class="r" y="-362"/><text class="e" transform="rotate(90)" x="-372" y="5.5">71</text></g>
<g id="n78" transform="rotate(285.08)"><use href="#s" class="b" y="-362"/><text class="e" transform="rotate(90)" x="-372" y="5.5">78</text></g>
<g id="n76" transform="rotate(287.69)"><use href="#s" class="b" y="-362"/><text class="e" transform="rotate(90)" x="-372" y="5.5">76</text></g>
<g id="n77" transform="rotate(290.31)"><use href="#s" class="b" y="-362"/><text class="e" transform="rotate(90)" x="-372" y="5.5">77</text></g>
<g id="n72" transform="rotate(292.92)"><use href="#s" class="b" y="-362"/><text class="e" transform="rotate(90)" x="-372" y="5.5">72</text></g>
<g id="n81" transform="rotate(295.54)"><use href="#s" class="b" y="-362"/><text class="e" transform="rotate(90)" x="-372" y="5.5">81</text></g>
<g id="n79" transform="rotate(298.15)"><use href="#s" class="b" y="-362"/><text class="e" transform="rotate(90)" x="-372" y="5.5">79</text></g>
<g id="n80" transform="rotate(300.77)"><use href="#s" class="b" y="-362"/><text class="e" transform="rotate(90)" x="-372" y="5.5">80</text></g>
<g id="n74" transform="rotate(303.38)"><use href="#s" class="r" y="-362"/><text class="e" transform="rotate(90)" x="-372" y="5.5">74</text></g>
<g id="n23" transform="rotate(306)"><use href="#s" class="r" y="-362"/><text class="e" transform="rotate(90)" x="-372" y="5.5">23</text></g>
<g id="n32" transform="rotate(308.62)"><use href="#c" class="r" y="-362"/><text class="e" transform="rotate(90)" x="-372" y="5.5">32</text></g>
<g id="n11" transform="rotate(311.23)"><use href="#s" class="r" y="-362"/><text class="e" transform="rotate(90)" x="-372" y="5.5">11</text></g>
<g id="n21" transform="rotate(313.85)"><use href="#s" class="r" y="-362"/><text class="e" transform="rotate(90)" x="-372" y="5.5">21</text></g>
<g id="n15" transform="rotate(316.46)"><use href="#s" class="r" y="-362"/><text class="e" transform="rotate(90)" x="-372" y="5.5">15</text></g>
<g id="n22" transform="rotate(319.08)"><use href="#s" class="r" y="-362"/><text class="e" transform="rotate(90)" x="-372" y="5.5">22</text></g>
<g id="n13" transform="rotate(321.69)"><use href="#s" class="r" y="-362"/><text class="e" transform="rotate(90)" x="-372" y="5.5">13</text></g>
<g id="n3" transform="rotate(324.31)"><use href="#u" class="r" y="-362"/><text class="e" transform="rotate(90)" x="-372" y="5.5">3</text></g>
<g id="n54" transform="rotate(326.92)"><use href="#u" class="r" y="-362"/><text class="e" transform="rotate(90)" x="-372" y="5.5">54</text></g>
<g id="n63" transform="rotate(329.54)"><use href="#u" class="r" y="-362"/><text class="e" transform="rotate(90)" x="-372" y="5.5">63</text></g>
<g id="n28" transform="rotate(332.15)"><use href="#u" class="r" y="-362"/><text class="e" transform="rotate(90)" x="-372" y="5.5">28</text></g>
<g id="n43" transform="rotate(334.77)"><use href="#u" class="r" y="-362"/><text class="e" transform="rotate(90)" x="-372" y="5.5">43</text></g>
<g id="n14" transform="rotate(337.38)"><use href="#s" class="r" y="-362"/><text class="e" transform="rotate(90)" x="-372" y="5.5">14</text></g>
<g id="n27" transform="rotate(340)"><use href="#c" class="r" y="-362"/><text class="e" transform="rotate(90)" x="-372" y="5.5">27</text></g>
</g>
</g>
</svg>
